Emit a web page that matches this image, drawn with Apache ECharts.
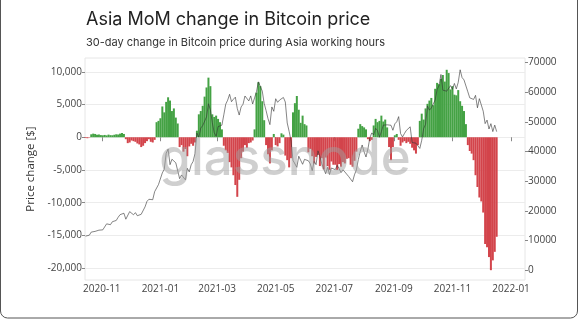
<!DOCTYPE html>
<html>
<head>
<meta charset="utf-8">
<script src="https://cdn.jsdelivr.net/npm/echarts@6/dist/echarts.min.js"></script>
<style>
html,body{margin:0;padding:0;background:#fff;}
#c{width:581px;height:323px;}
</style>
</head>
<body>
<div id="c"></div>
<script>
// Dates: every 2 days starting 2020-10-15
const START = [2020, 9, 15];
const STEP_DAYS = 2;

// 30-day change in Bitcoin price during Asia working hours ($), one per date
const momChange = [
  // Oct 2020
  -120, -150, -60, 450, 550, 500, 380, 420, 330,
  // Nov 2020
  300, 350, 280, 400, 320, 300, 380, 450, 420, 550, 650, 500, -300, -900, -800,
  // Dec 2020
  -500, -600, -700, -950, -1100, -1500, -1300, -900, -600, -300, -700, -800, -400, 2300, 2500,
  // Jan 2021
  2900, 4700, 3800, 5400, 6100, 5600, 4000, 4400, 3000, 2100, -1500, -1200, -2200, -1800, -2900, -1400,
  // Feb 2021
  -1000, -1300, -800, 1000, 3500, 4000, 4800, 6200, 7600, 9100, 7800, 3500, 3100, 3300,
  // Mar 2021
  2800, 2300, 1200, -1300, -2000, -2400, -3800, -4600, -5800, -7300, -9100, -6500, -3200, -2200, -1200,
  // Apr 2021
  -1600, -900, -800, -500, 1200, 6800, 8400, 7800, 5500, 2600, -1200, -2600, -4000, -2000, 500,
  // May 2021
  -1200, -1400, -900, 600, 400, -2800, -3500, -4600, -3200, 3800, 5200, 6300, 4200, 2200, 3300, 2000,
  // Jun 2021
  1800, -2300, -1800, -2900, -4000, -3000, -2700, -4400, -3200, -4900, -3100, -4400, -5000, -3700, -4200,
  // Jul 2021
  -4200, -5000, -4100, -4500, -3800, -4000, -3300, -3200, -4200, -4500, -3600, -2200, 1300, 2000, 1700,
  // Aug 2021
  1500, 1200, -300, -600, -400, 1800, 2800, 2300, 2500, 3300, 2400, 2700, 1500, -1500, -3500, -1500,
  // Sep 2021
  300, 500, -400, -1300, -800, -600, -900, -700, -1000, -1600, -2000, -2500, -1200, 2500, 3600,
  // Oct 2021
  2700, 4400, 5100, 5600, 6000, 4900, 7400, 8300, 8100, 8900, 9500, 8500, 10300, 9800, 7300,
  // Nov 2021
  7800, 6500, 6400, 7200, 5500, 4800, 4000, 2000, -1200, -2100, -2500, -3500, -5800, -7600, -9200,
  // Dec 2021
  -9800, -11500, -16300, -16800, -18300, -20300, -18800, -17500, -15200
];

// Bitcoin price ($), one per date
const btcPrice = [
  // Oct 2020
  11430, 11360, 11750, 12800, 12930, 13030, 13650, 13450, 13780,
  // Nov 2020
  13550, 14150, 15580, 15480, 15300, 16300, 16070, 16720, 17800, 18680, 18420, 19160, 17150, 17730, 19700,
  // Dec 2020
  19200, 18650, 19360, 18320, 18550, 18800, 19250, 21310, 23150, 23870, 23480, 23730, 26440, 27080, 28840,
  // Jan 2021
  29370, 32780, 33990, 39370, 40800, 35550, 37390, 36820, 36180, 36070, 30830, 32090, 32290, 30430, 34320, 33110,
  // Feb 2021
  35510, 36630, 39280, 46200, 44810, 47910, 48720, 49200, 51680, 56100, 54090, 49710, 46340, 45140,
  // Mar 2021
  48380, 48460, 48880, 52390, 55960, 57330, 59300, 56800, 57640, 58330, 54520, 52300, 55030, 55950, 58730,
  // Apr 2021
  58920, 57060, 58760, 56040, 58080, 60200, 63500, 62970, 60400, 56250, 53800, 51090, 49070, 55030, 53560,
  // May 2021
  57800, 56600, 57350, 57340, 58230, 56700, 49620, 46760, 43540, 37000, 37490, 34660, 38400, 38800, 35680, 37340,
  // Jun 2021
  37570, 36880, 35820, 33560, 36690, 35550, 40220, 38340, 35820, 35480, 32500, 34660, 32240, 34430, 35040,
  // Jul 2021
  33870, 35290, 34230, 32880, 33820, 33090, 32820, 31530, 31780, 29790, 32140, 33800, 37270, 39990, 42200,
  // Aug 2021
  39880, 38150, 40870, 44610, 46280, 45590, 47830, 47050, 44800, 46720, 48900, 49530, 49000, 49040, 48850, 47160,
  // Sep 2021
  49330, 50030, 51770, 46040, 44900, 46060, 47110, 47760, 48330, 43010, 43580, 42820, 43210, 41030, 43790,
  // Oct 2021
  47700, 49200, 55360, 53950, 54700, 56040, 57400, 60880, 62200, 65990, 60690, 61310, 60340, 60630, 62230,
  // Nov 2021
  61000, 62970, 61120, 63330, 67570, 64950, 64160, 63540, 60140, 58100, 58730, 57570, 58950, 54740, 57830,
  // Dec 2021
  57230, 53600, 49400, 50590, 47590, 49390, 46710, 48900, 46700
];

// Tick labels
const xTickLabels = ['2020-11', '2021-01', '2021-03', '2021-05', '2021-07', '2021-09', '2021-11', '2022-01'];
const leftTicks = [-20000, -15000, -10000, -5000, 0, 5000, 10000];
const rightTicks = [0, 10000, 20000, 30000, 40000, 50000, 60000, 70000];

const DAY = 86400000;
const t0 = new Date(START[0], START[1], START[2]).getTime();
const dates = momChange.map((_, i) => t0 + i * STEP_DAYS * DAY);
const xTickValues = xTickLabels.map(s => { const p = s.split('-'); return new Date(+p[0], +p[1] - 1, 1).getTime(); });

const chart = echarts.init(document.getElementById('c'), null, {renderer: 'canvas'});
const tickFont = {fontFamily: 'Open Sans', fontSize: 10, color: '#444'};

chart.setOption({
  animation: false,
  backgroundColor: '#fff',
  grid: {left: 85, right: 56, top: 58, bottom: 43, show: true, borderColor: '#e6e6e6', borderWidth: 1},
  xAxis: {
    type: 'value',
    min: new Date(2020, 9, 14, 12).getTime(),
    max: new Date(2022, 0, 15, 12).getTime(),
    axisLine: {show: false},
    axisTick: {show: true, length: 4, lineStyle: {color: '#888'}, customValues: xTickValues},
    axisLabel: Object.assign({}, tickFont, {
      margin: 4,
      customValues: xTickValues,
      formatter: v => { const d = new Date(v); return d.getFullYear() + '-' + String(d.getMonth() + 1).padStart(2, '0'); }
    }),
    splitLine: {show: false}
  },
  yAxis: [{
    type: 'value', position: 'left',
    min: -21800, max: 12100,
    axisLine: {show: false},
    axisTick: {show: true, length: 3, lineStyle: {color: '#888'}, customValues: leftTicks},
    axisLabel: Object.assign({}, tickFont, {margin: 3, customValues: leftTicks, formatter: v => Number(v).toLocaleString('en-US')}),
    splitLine: {show: true, lineStyle: {color: '#ececec', width: 1}},
    name: 'Price change [$]', nameLocation: 'middle', nameGap: 44, nameRotate: 90,
    nameTextStyle: {fontFamily: 'Open Sans', fontSize: 11.5, color: '#333'}
  }, {
    type: 'value', position: 'right',
    min: -3370, max: 71550,
    axisLine: {show: false},
    axisTick: {show: true, length: 3, lineStyle: {color: '#888'}, customValues: rightTicks},
    axisLabel: Object.assign({}, tickFont, {margin: 3, customValues: rightTicks, formatter: v => String(v)}),
    splitLine: {show: false}
  }],
  series: [{
    type: 'bar',
    yAxisIndex: 0,
    barWidth: 2,
    data: dates.map((t, i) => [t, momChange[i]]),
    itemStyle: {color: p => p.value[1] >= 0 ? '#44a244' : '#d3444b'},
    z: 2
  }, {
    type: 'line',
    yAxisIndex: 1,
    showSymbol: false,
    data: dates.map((t, i) => [t, btcPrice[i]]),
    lineStyle: {color: '#333', width: 0.6},
    z: 3
  }],
  graphic: [
    {type: 'text', left: 86, top: 11, style: {text: 'Asia MoM change in Bitcoin price', font: '18px Inter', fill: '#222'}},
    {type: 'text', left: 86, top: 37, style: {text: '30-day change in Bitcoin price during Asia working hours', font: '11px Inter', fill: '#333'}},
    {type: 'text', x: 285, y: 160, z: 100, style: {text: 'glassnode', font: '500 51px Inter', fill: 'rgba(160,160,160,0.5)', align: 'center', verticalAlign: 'middle'}},
    {type: 'rect', shape: {x: 0.5, y: -20, width: 577, height: 338, r: 7}, style: {fill: 'none', stroke: '#555', lineWidth: 1}, z: 100}
  ]
});
</script>
</body>
</html>
